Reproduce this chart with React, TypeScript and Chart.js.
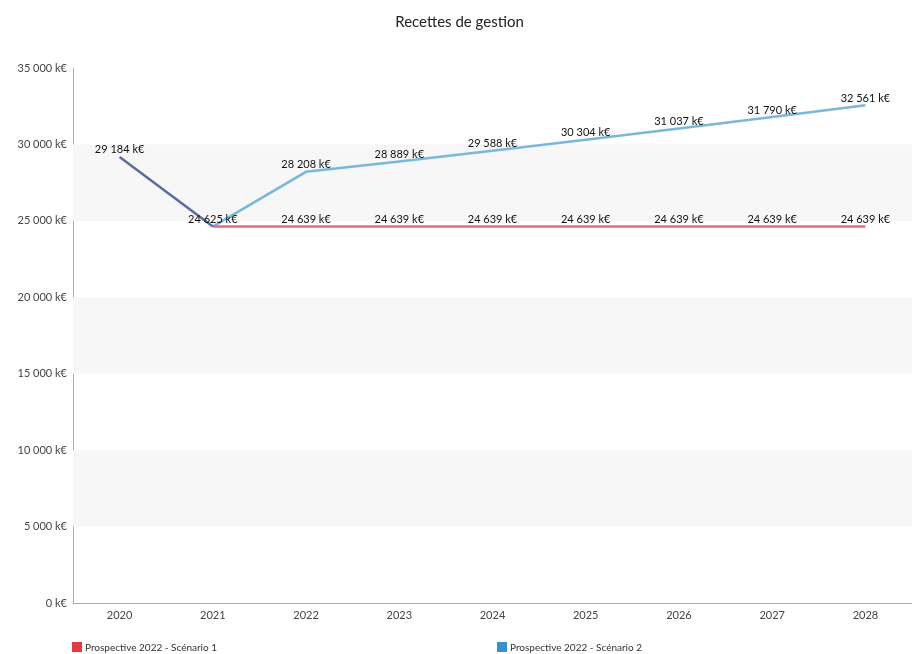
import React, { useEffect, useRef } from "react";
import { Chart, registerables } from "chart.js";

Chart.register(...registerables);

const years = ["2020", "2021", "2022", "2023", "2024", "2025", "2026", "2027", "2028"];
const historique = [29184, 24625, null, null, null, null, null, null, null];
const scenario1 = [null, 24625, 24639, 24639, 24639, 24639, 24639, 24639, 24639];
const scenario2 = [null, 24625, 28208, 28889, 29588, 30304, 31037, 31790, 32561];
const yTicks = [0, 5000, 10000, 15000, 20000, 25000, 30000, 35000];
const legendLabels = ["Prospective 2022 - Scénario 1", "Prospective 2022 - Scénario 2"];

const fmt = (v: number) =>
  String(Math.round(v)).replace(/\B(?=(\d{3})+(?!\d))/g, " ") + " k€";

const FONT = "Lato, 'Open Sans', sans-serif";

const bandsPlugin = {
  id: "bands",
  beforeDatasetsDraw(chart: any) {
    const { ctx, chartArea, scales } = chart;
    const y = scales.y;
    ctx.save();
    ctx.fillStyle = "#f7f7f7";
    for (let i = 0; i < yTicks.length - 1; i++) {
      if (i % 2 === 1) {
        const top = y.getPixelForValue(yTicks[i + 1]);
        const bot = y.getPixelForValue(yTicks[i]);
        ctx.fillRect(chartArea.left, top, chartArea.right - chartArea.left, bot - top);
      }
    }
    ctx.restore();
  },
};

const labelsPlugin = {
  id: "valueLabels",
  afterDatasetsDraw(chart: any) {
    const { ctx } = chart;
    ctx.save();
    ctx.font = "11px " + FONT;
    ctx.fillStyle = "#111";
    ctx.textAlign = "center";
    ctx.textBaseline = "middle";
    chart.data.datasets.forEach((ds: any, di: number) => {
      const meta = chart.getDatasetMeta(di);
      meta.data.forEach((pt: any, i: number) => {
        const v = ds.data[i];
        if (v == null) return;
        if (ds.skipLabels && ds.skipLabels.includes(i)) return;
        ctx.fillText(fmt(v), pt.x, pt.y - 7);
      });
    });
    ctx.restore();
  },
};

export default function App() {
  const ref = useRef<HTMLCanvasElement>(null);
  useEffect(() => {
    if (!ref.current) return;
    const chart = new Chart(ref.current, {
      type: "line",
      data: {
        labels: years,
        datasets: [
          {
            label: "Historique",
            data: historique,
            borderColor: "#5b6c9e",
            borderWidth: 2.5,
            pointRadius: 0,
            fill: false,
          } as any,
          {
            label: legendLabels[0],
            data: scenario1,
            borderColor: "#e8687f",
            borderWidth: 2.5,
            pointRadius: 0,
            fill: false,
            skipLabels: [1],
          } as any,
          {
            label: legendLabels[1],
            data: scenario2,
            borderColor: "#78b8de",
            borderWidth: 2.5,
            pointRadius: 0,
            fill: false,
            skipLabels: [1],
          } as any,
        ],
      },
      options: {
        animation: false,
        responsive: false,
        maintainAspectRatio: false,
        layout: { padding: { top: 0, right: -7, bottom: 26, left: 0 } },
        plugins: {
          legend: { display: false },
          tooltip: { enabled: false },
          title: {
            display: true,
            text: "Recettes de gestion",
            color: "#222",
            font: { family: FONT, size: 15, weight: "normal" },
            padding: { top: 13, bottom: 37 },
          },
        },
        scales: {
          x: {
            offset: true,
            grid: { display: false, drawTicks: false },
            border: { display: true, color: "#aaa", width: 1 },
            ticks: { color: "#444", font: { family: FONT, size: 11 }, padding: 6 },
            afterFit: (s: any) => {
              s.height = 25;
            },
          },
          y: {
            min: 0,
            max: 35000,
            afterBuildTicks: (s: any) => {
              s.ticks = yTicks.map((v) => ({ value: v }));
            },
            grid: { display: false, drawTicks: false },
            border: { display: true, color: "#aaa", width: 1 },
            ticks: {
              color: "#444",
              font: { family: FONT, size: 11 },
              padding: 6,
              callback: (v: any) => fmt(Number(v)),
            },
            afterFit: (s: any) => {
              s.width = 73;
            },
          },
        },
      } as any,
      plugins: [bandsPlugin, labelsPlugin],
    });
    return () => chart.destroy();
  }, []);

  const legendColors = ["#e53a3f", "#3a8fd0"];
  const legendX = [72, 497];

  return (
    <div style={{ position: "fixed", left: 0, top: 0, width: 912, height: 654, background: "#fff", overflow: "hidden" }}>
      <canvas ref={ref} width={912} height={654} style={{ display: "block" }} />
      {legendLabels.map((t, i) => (
        <div
          key={t}
          style={{
            position: "absolute",
            left: legendX[i],
            top: 641,
            display: "flex",
            alignItems: "center",
            fontFamily: FONT,
            fontSize: 10,
            color: "#333",
            whiteSpace: "nowrap",
          }}
        >
          <span style={{ display: "inline-block", width: 10, height: 10, background: legendColors[i], marginRight: 3 }} />
          {t}
        </div>
      ))}
    </div>
  );
}
